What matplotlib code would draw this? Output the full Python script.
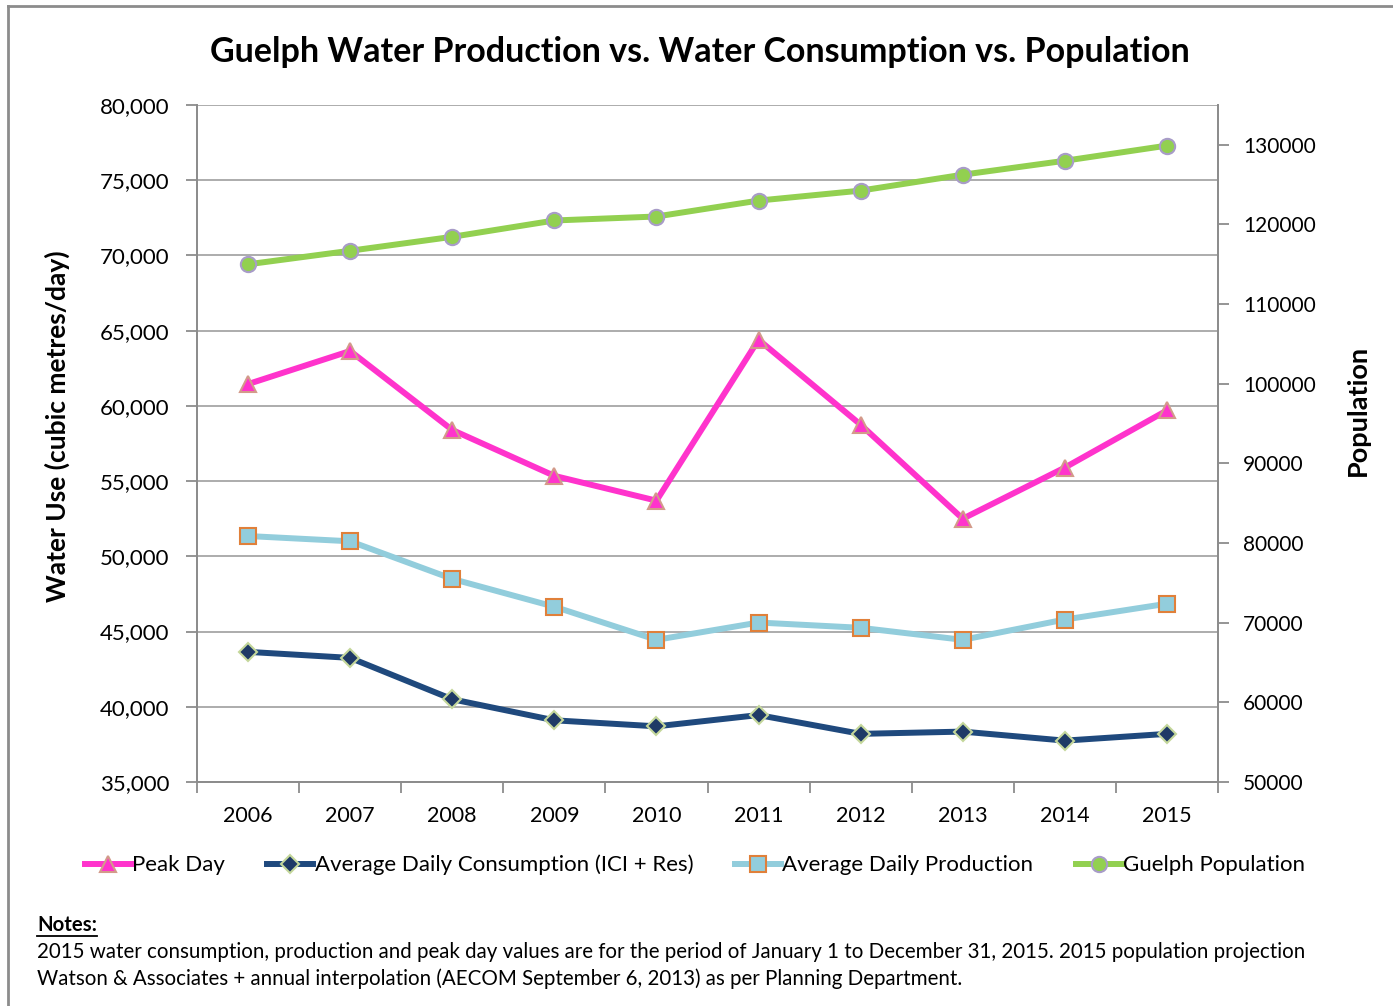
import matplotlib
matplotlib.use("Agg")
import matplotlib.pyplot as plt
from matplotlib.lines import Line2D
from matplotlib.ticker import FuncFormatter, FixedLocator

plt.rcParams['font.family'] = ['Lato', 'DejaVu Sans']

years = ['2006', '2007', '2008', '2009', '2010', '2011', '2012', '2013', '2014', '2015']
peak_day = [61450, 63650, 58400, 55350, 53700, 64400, 58750, 52500, 55900, 59700]
avg_consumption = [43650, 43250, 40500, 39100, 38700, 39450, 38200, 38350, 37750, 38200]
avg_production = [51350, 51000, 48500, 46650, 44450, 45600, 45250, 44450, 45800, 46850]
population = [115000, 116700, 118450, 120500, 121000, 123000, 124250, 126250, 128000, 129900]

title = "Guelph Water Production vs. Water Consumption vs. Population"
left_label = "Water Use (cubic metres/day)"
right_label = "Population"
notes_head = "Notes:"
notes_lines = [
    "2015 water consumption, production and peak day values are for the period of January 1 to December 31, 2015. 2015 population projection",
    "Watson & Associates + annual interpolation (AECOM September 6, 2013) as per Planning Department.",
]

W, H = 1393, 1006
fig = plt.figure(figsize=(W / 100, H / 100), dpi=100)

ax = fig.add_axes([197 / W, 1 - 782 / H, (1218 - 197) / W, (782 - 105) / H])
ax2 = ax.twinx()

x = list(range(len(years)))
grid_c = '#A6A6A6'
spine_c = '#8C8C8C'

ax.set_xlim(-0.5, len(years) - 0.5)
ax.set_ylim(35000, 80000)
ax.set_yticks(range(35000, 80001, 5000))
ax.yaxis.set_major_formatter(FuncFormatter(lambda v, p: f"{int(v):,}"))
ax.grid(axis='y', color=grid_c, lw=1.3)
ax.set_axisbelow(True)
ax.set_xticks(x)
ax.set_xticklabels(years)
ax.xaxis.set_minor_locator(FixedLocator([i - 0.5 for i in range(len(years) + 1)]))
ax.tick_params(axis='x', which='major', length=0, labelsize=15.5, pad=17)
ax.tick_params(axis='x', which='minor', length=8, width=1.3, color=spine_c, direction='out')
ax.tick_params(axis='y', length=8, width=1.3, color=spine_c, labelsize=16, pad=12)

ax2.set_ylim(50000, 135000)
ax2.set_yticks(range(50000, 130001, 10000))
ax2.yaxis.set_major_formatter(FuncFormatter(lambda v, p: f"{int(v)}"))
ax2.tick_params(axis='y', length=8, width=1.3, color=spine_c, labelsize=15, pad=10)

for a in (ax, ax2):
    a.spines['top'].set_visible(False)
    for s in ('left', 'right', 'bottom'):
        a.spines[s].set_color(spine_c)
        a.spines[s].set_linewidth(1.3)

lw = 4.3
ax.plot(x, peak_day, color='#FF33CC', lw=lw, marker='^', ms=12,
        mfc='#FF33CC', mec='#D39A8A', mew=1.5, label='Peak Day', zorder=3)
ax.plot(x, avg_consumption, color='#1F497D', lw=lw, marker='D', ms=9,
        mfc='#1F3A66', mec='#C4D79B', mew=1.5, label='Average Daily Consumption (ICI + Res)', zorder=3)
ax.plot(x, avg_production, color='#92CDDC', lw=lw, marker='s', ms=11,
        mfc='#92CDDC', mec='#E0803A', mew=1.5, label='Average Daily Production', zorder=3)
ax2.plot(x, population, color='#92D050', lw=lw, marker='o', ms=11,
         mfc='#92D050', mec='#A89CC8', mew=1.5, label='Guelph Population', zorder=3)

fig.text(700 / W, 1 - 52 / H, title, ha='center', va='center', fontsize=24.5, fontweight='bold')
fig.text(57 / W, 1 - 426 / H, left_label, ha='center', va='center', rotation=90,
         fontsize=19, fontweight='bold')
fig.text(1358 / W, 1 - 410 / H, right_label, ha='center', va='center', rotation=90,
         fontsize=19.5, fontweight='bold')

handles = ax.get_lines() + ax2.get_lines()
leg = fig.legend(handles, [h.get_label() for h in handles], loc='center',
                 bbox_to_anchor=(695 / W, 1 - 865 / H), ncol=4, frameon=False,
                 fontsize=16, handlelength=2.07, handletextpad=0.05, columnspacing=1.9)

# border
fig.add_artist(Line2D([8 / W, 8 / W], [0, 1 - 6 / H], transform=fig.transFigure,
                      color='#8C8C8C', lw=2))
fig.add_artist(Line2D([8 / W, 1], [1 - 6 / H, 1 - 6 / H], transform=fig.transFigure,
                      color='#8C8C8C', lw=2))

nh = fig.text(37 / W, 1 - 925 / H, notes_head, ha='left', va='center', fontsize=14.7, fontweight='bold')
fig.text(37 / W, 1 - 952 / H, notes_lines[0], ha='left', va='center', fontsize=14.8)
fig.text(37 / W, 1 - 979 / H, notes_lines[1], ha='left', va='center', fontsize=14.8)

fig.canvas.draw()
bb = nh.get_window_extent()
fig.add_artist(Line2D([bb.x0 / W, bb.x1 / W], [(bb.y0 - 1) / H, (bb.y0 - 1) / H],
                      transform=fig.transFigure, color='black', lw=1.3))

fig.savefig('out.png', dpi=100)
